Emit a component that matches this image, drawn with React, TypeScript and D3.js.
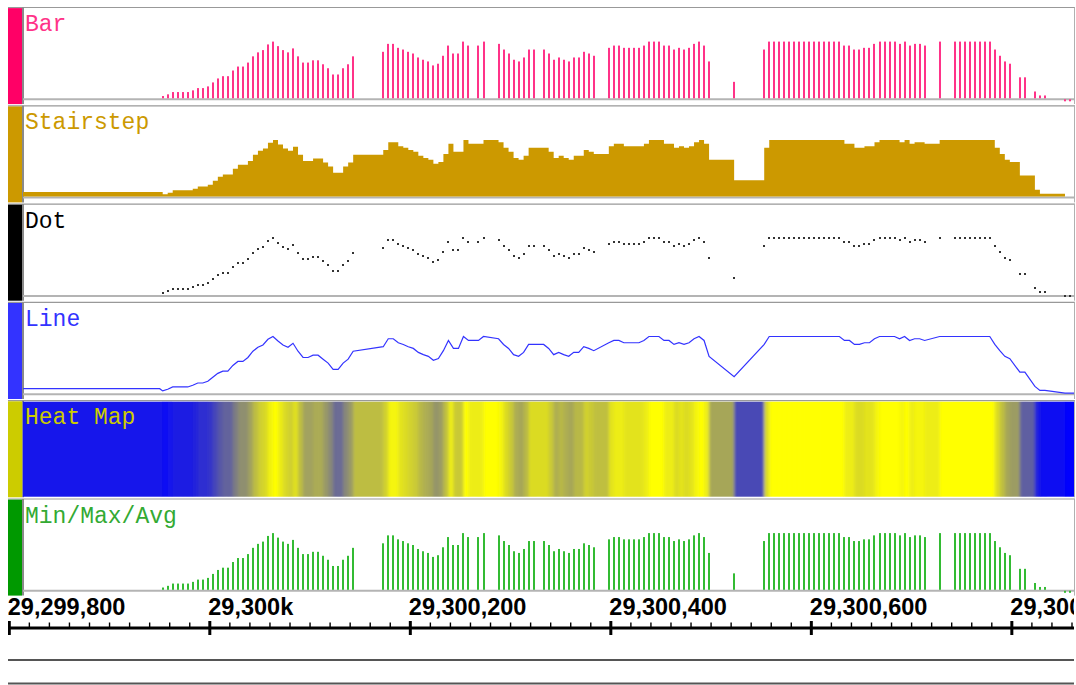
import React from 'react';
import * as d3 from 'd3';

// ---------------- data ----------------
const startPosition = 29299953; // genomic position of first data point
const stepBp = 5;
// data values (0-100), null = no data
const values: (number | null)[] = [
  4, 7, 11, 11, 11, 11, 14, 18, 18, 21,
  28, 35, 39, 39, 49, 56, 56, 63, 74, 81,
  85, 95, 100, 92, 85, 81, 88, 74, 63, 63,
  67, 67, 60, 53, 42, 42, 53, 60, 74, null,
  null, null, null, null, 82, 96, 96, 89, 86, 82,
  79, 72, 68, 65, 58, 61, 75, 93, 79, 79,
  100, 93, null, 93, 100, null, null, 96, 86, 79,
  68, 65, 72, 86, 86, null, 86, 79, 68, 72,
  68, 65, 72, 72, 82, 79, 75, null, null, 89,
  93, 93, 89, 89, 89, 89, 93, 100, 100, 100,
  93, 93, 86, 89, 86, 89, 96, 100, 93, 65,
  null, null, null, null, 29, null, null, null, null, null,
  86, 100, 100, 100, 100, 100, 100, 100, 100, 100,
  100, 100, 100, 100, 100, 100, 93, 93, 86, 86,
  89, 89, 96, 100, 100, 100, 100, 96, 100, 93,
  96, 96, 93, null, null, 100, null, null, 100, 100,
  100, 100, 100, 100, 100, 100, 86, 75, 65, 61,
  null, 37, 37, null, 12, 5, 5, null, null, null,
  0, 0,
];
const leadingValue = 8; // value carried in from the left edge of the view

const trackNames = ['Bar', 'Stairstep', 'Dot', 'Line', 'Heat Map', 'Min/Max/Avg'];
const trackTypes = ['bar', 'step', 'dot', 'line', 'heat', 'minmax'];
const stripColors = ['#ff0066', '#cc9900', '#000000', '#3333ff', '#cccc00', '#009900'];
const markColors = ['#ff3388', '#cc9900', '#333333', '#3333ff', '#cccc00', '#33bb33'];
const labelColors = ['#ff3388', '#cc9900', '#000000', '#3333ff', '#cccc00', '#33aa33'];

const viewStart = 29299800;
const viewEnd = 29300862;
const majorTicks = [29299800, 29300000, 29300200, 29300400, 29300600, 29300800];
const majorTickLabels = ['29,299,800', '29,300k', '29,300,200', '29,300,400', '29,300,600', '29,300,800'];
const minorStep = 20;
const heatLow = '#0000ff';
const heatHigh = '#ffff00';

// ---------------- layout ----------------
const W = 1076;
const H = 685;
const panelLeft = 8;
const stripW = 14;
const dataLeft = 23;
const panelRight = 1074;
const trackTop0 = 7.5;
const trackPitch = 98.3;
const trackH = 96;
const baselineOff = 90.8;
const maxBarPx = 56.7;

const x = d3.scaleLinear().domain([viewStart, viewEnd]).range([9.3, panelRight]);

type Pt = { pos: number; v: number };
const points: Pt[] = values
  .map((v, i) => ({ pos: startPosition + stepBp * i, v }))
  .filter((d) => d.v !== null) as Pt[];

const heatColor = d3.scaleLinear<string>().domain([0, 100]).range([heatLow, heatHigh]).interpolate(d3.interpolateRgb);

function Track({ idx }: { idx: number }) {
  const top = trackTop0 + idx * trackPitch;
  const base = top + baselineOff;
  const y = d3.scaleLinear().domain([0, 100]).range([base, base - maxBarPx]);
  const type = trackTypes[idx];
  const color = markColors[idx];
  const clipId = `clip-${idx}`;

  let marks: React.ReactNode = null;
  if (type === 'bar' || type === 'minmax') {
    marks = points.map((d, i) => {
      const cx = Math.round(x(d.pos));
      let yy = y(d.v);
      let hh = base - yy;
      if (hh < 1) {
        yy = base + 1;
        hh = 2;
      }
      return <rect key={i} x={cx - 1} y={yy} width={2} height={hh} fill={color} />;
    });
  } else if (type === 'dot') {
    marks = points.map((d, i) => {
      const cx = Math.round(x(d.pos));
      let yy = Math.round(y(d.v));
      if (base - yy < 1) yy = Math.round(base + 1);
      return <rect key={i} x={cx - 1} y={yy - 1} width={2} height={2} fill={color} />;
    });
  } else if (type === 'step') {
    const series = [
      { px: dataLeft, v: leadingValue },
      ...points.map((d) => ({ px: x(d.pos), v: d.v })),
      { px: panelRight, v: points[points.length - 1].v },
    ];
    const area = d3
      .area<{ px: number; v: number }>()
      .x((d) => d.px)
      .y0(base)
      .y1((d) => y(d.v))
      .curve(d3.curveStepAfter);
    marks = <path d={area(series) || ''} fill={color} />;
  } else if (type === 'line') {
    const series = [
      { px: dataLeft, v: leadingValue },
      { px: x(points[0].pos) - 3, v: leadingValue },
      ...points.map((d) => ({ px: x(d.pos), v: d.v })),
      { px: panelRight, v: points[points.length - 1].v },
    ];
    const line = d3
      .line<{ px: number; v: number }>()
      .x((d) => d.px)
      .y((d) => y(d.v));
    marks = <path d={line(series) || ''} fill="none" stroke={color} strokeWidth={1.2} />;
  } else if (type === 'heat') {
    const series = [
      { px: dataLeft - 12, v: leadingValue },
      ...points.map((d) => ({ px: x(d.pos), v: d.v })),
    ];
    marks = (
      <g filter="url(#heat-blur)">
        {series.map((d, i) => {
          const x1 = i + 1 < series.length ? series[i + 1].px : panelRight + 12;
          return (
            <rect key={i} x={d.px} y={top + 1} width={Math.max(0, x1 - d.px) + 0.6} height={trackH - 1} fill={heatColor(d.v)} />
          );
        })}
      </g>
    );
  }

  return (
    <g>
      <defs>
        <clipPath id={clipId}>
          <rect x={dataLeft} y={top} width={panelRight - dataLeft} height={trackH + 2} />
        </clipPath>
      </defs>
      {/* top border */}
      <line x1={panelLeft} x2={panelRight + 1} y1={top} y2={top} stroke="#999" strokeWidth={1.2} />
      {/* colour strip */}
      <rect x={panelLeft} y={top + 0.6} width={stripW} height={trackH} fill={stripColors[idx]} />
      <line x1={panelLeft + stripW + 1} x2={panelLeft + stripW + 1} y1={top} y2={top + trackH + 0.6} stroke="#8a8a8a" strokeWidth={2} />
      {/* right border */}
      <line x1={panelRight + 0.5} x2={panelRight + 0.5} y1={top} y2={top + trackH + 0.6} stroke="#b0b0b0" strokeWidth={1} />
      <g clipPath={`url(#${clipId})`}>
        {type !== 'heat' && (
          <line x1={dataLeft} x2={panelRight} y1={base + 1} y2={base + 1} stroke="#b4b4b4" strokeWidth={2} />
        )}
        {marks}
      </g>
      <text
        x={dataLeft + 2}
        y={top + 23.5}
        fill={labelColors[idx]}
        fontFamily="'Liberation Mono', 'DejaVu Sans Mono', monospace"
        fontSize={23}
      >
        {trackNames[idx]}
      </text>
    </g>
  );
}

function Ruler() {
  const axisY = 628;
  const minor = d3.range(viewStart, viewEnd, minorStep);
  return (
    <g>
      <defs>
        <clipPath id="ruler-clip">
          <rect x={panelLeft} y={590} width={panelRight - panelLeft} height={60} />
        </clipPath>
      </defs>
      <g clipPath="url(#ruler-clip)">
        {majorTicks.map((t, i) => (
          <text
            key={t}
            x={x(t) - 1.5}
            y={615}
            fontFamily="'Liberation Sans', Arial, sans-serif"
            fontWeight="bold"
            fontSize={23.5}
            fill="#000"
          >
            {majorTickLabels[i]}
          </text>
        ))}
        {minor.map((t) => (
          <line key={t} x1={x(t)} x2={x(t)} y1={622.5} y2={628} stroke="#000" strokeWidth={1.4} />
        ))}
        <line x1={panelLeft} x2={panelRight} y1={axisY} y2={axisY} stroke="#000" strokeWidth={3} />
        {majorTicks.map((t) => (
          <line key={t} x1={x(t)} x2={x(t)} y1={621} y2={635} stroke="#000" strokeWidth={3} />
        ))}
      </g>
      <line x1={panelLeft} x2={panelRight} y1={660} y2={660} stroke="#555" strokeWidth={2} />
      <line x1={panelLeft} x2={panelRight} y1={683.5} y2={683.5} stroke="#555" strokeWidth={2} />
    </g>
  );
}

export default function App() {
  return (
    <svg
      width={W}
      height={H}
      viewBox={`0 0 ${W} ${H}`}
      style={{ position: 'absolute', left: 0, top: 0, background: '#fff' }}
    >
      <defs>
        <filter id="heat-blur" x="-5%" y="0" width="110%" height="100%">
          <feGaussianBlur stdDeviation="1.8 0" />
        </filter>
      </defs>
      <rect x={0} y={0} width={W} height={H} fill="#fff" />
      {trackNames.map((_, i) => (
        <Track key={i} idx={i} />
      ))}
      <Ruler />
    </svg>
  );
}
